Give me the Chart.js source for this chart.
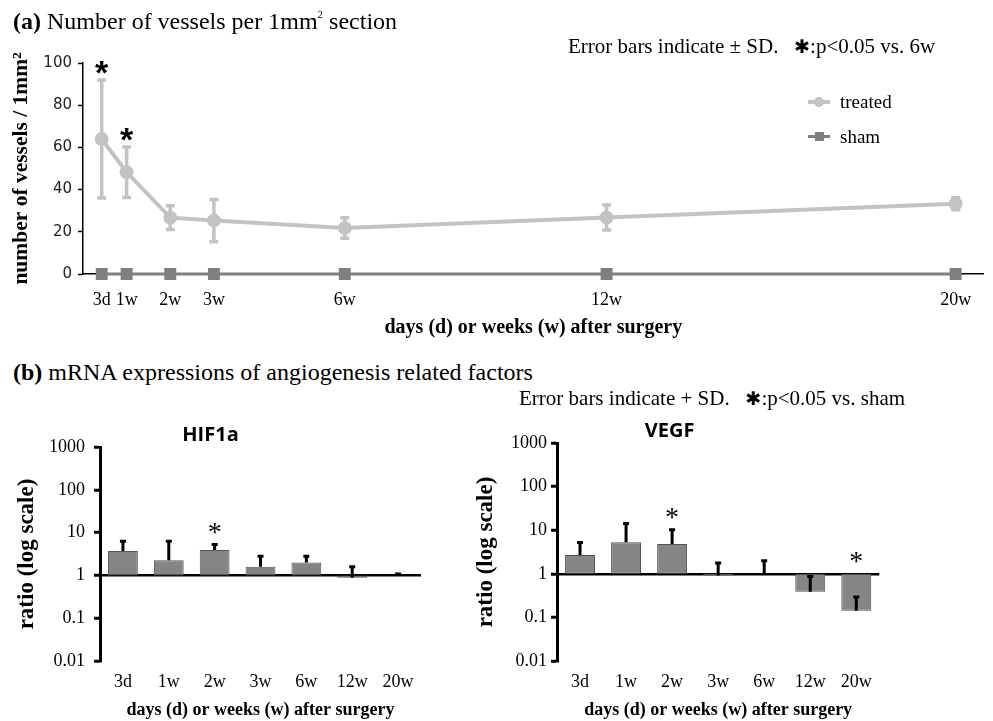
<!DOCTYPE html>
<html>
<head>
<meta charset="utf-8">
<script src="https://cdn.jsdelivr.net/npm/chart.js@4.4.1/dist/chart.umd.min.js"></script>
<style>
body { margin: 0; background: #fff; }
#wrap { position: relative; width: 993px; height: 721px; overflow: hidden; font-family: "Liberation Serif", serif; color: #000; }
canvas { position: absolute; }
.t { position: absolute; white-space: pre; line-height: 1; z-index: 2; }
.mk { position: absolute; z-index: 2; }
</style>
</head>
<body>
<div id="wrap">
  <canvas id="vesselChart" width="993" height="340" style="left:0;top:0"></canvas>
  <canvas id="hifChart" width="480" height="321" style="left:0;top:400px"></canvas>
  <canvas id="vegfChart" width="533" height="321" style="left:460px;top:400px"></canvas>

  <div class="t" style="left:13px;top:9px;font-size:24px"><b>(a)</b> Number of vessels per 1mm<span style="font-size:11px;vertical-align:11px">2</span> section</div>
  <div class="t" style="left:568px;top:36px;font-size:21px">Error bars indicate ± SD.   <span style="font-family:'DejaVu Sans';font-size:19px">✱</span>:p&lt;0.05 vs. 6w</div>

  <div class="mk" style="left:808px;top:100px;width:22px;height:4px;background:#c3c3c3"></div>
  <div class="mk" style="left:814px;top:97px;width:10px;height:10px;border-radius:50%;background:#c3c3c3"></div>
  <div class="t" style="left:840px;top:92px;font-size:19px">treated</div>
  <div class="mk" style="left:808px;top:135px;width:22px;height:3px;background:#7f7f7f"></div>
  <div class="mk" style="left:815px;top:132px;width:9px;height:9px;background:#7f7f7f"></div>
  <div class="t" style="left:840px;top:127px;font-size:19px">sham</div>

  <div class="t" style="left:13px;top:360px;font-size:24px"><b>(b)</b> mRNA expressions of angiogenesis related factors</div>
  <div class="t" style="left:519px;top:388px;font-size:21px">Error bars indicate + SD.   <span style="font-family:'DejaVu Sans';font-size:19px">✱</span>:p&lt;0.05 vs. sham</div>
</div>

<script>
// (a) vessels per 1mm2
var days = [3, 7, 14, 21, 42, 84, 140];
var dayLabels = ['3d', '1w', '2w', '3w', '6w', '12w', '20w'];
var treatedMean = [64, 48.2, 26.7, 25.3, 21.8, 26.8, 33.3];
var treatedSD = [28, 12, 5.6, 10, 4.8, 5.9, 2.8];
var shamMean = [0, 0, 0, 0, 0, 0, 0];
var treatedStars = [true, true, false, false, false, false, false];

// (b) mRNA ratio vs sham
var hifRatio = [3.7, 2.25, 3.9, 1.6, 2.0, 0.88, 1.0];
var hifSD = [2.6, 4.05, 1.4, 1.2, 0.8, 0.72, 0.08];
var hifStars = [false, false, true, false, false, false, false];

var vegfRatio = [2.7, 5.3, 4.8, 0.92, 1.0, 0.39, 0.142];
var vegfSD = [2.5, 8.9, 5.4, 0.84, 1.0, 0.48, 0.15];
var vegfStars = [false, false, true, false, false, false, true];

var ratioTicks = [0.01, 0.1, 1, 10, 100, 1000];

Chart.defaults.font.family = '"Liberation Serif", serif';
Chart.defaults.color = '#000';
Chart.defaults.animation = false;

function errorBars(values, sd, stars, st) {
  return {
    id: 'errorBars',
    afterDatasetsDraw: function (chart) {
      var meta = chart.getDatasetMeta(0);
      var y = chart.scales.y;
      var c = chart.ctx;
      c.save();
      c.strokeStyle = st.color;
      c.lineWidth = st.width;
      meta.data.forEach(function (el, i) {
        var v = values[i];
        var top = y.getPixelForValue(v + sd[i]);
        var bot = st.both ? y.getPixelForValue(v - sd[i]) : y.getPixelForValue(v);
        c.beginPath();
        c.moveTo(el.x, bot);
        c.lineTo(el.x, top);
        c.moveTo(el.x - st.cap, top);
        c.lineTo(el.x + st.cap, top);
        if (st.both) {
          c.moveTo(el.x - st.cap, bot);
          c.lineTo(el.x + st.cap, bot);
        }
        c.stroke();
      });
      // asterisks
      c.fillStyle = '#000';
      c.font = st.starFont;
      c.textAlign = 'center';
      c.textBaseline = 'alphabetic';
      var m = c.measureText('*');
      var shift = (m.actualBoundingBoxAscent - m.actualBoundingBoxDescent) / 2;
      meta.data.forEach(function (el, i) {
        if (!stars[i]) return;
        var ref = st.both ? values[i] + sd[i] : Math.max(1, values[i] + sd[i]);
        var cy = y.getPixelForValue(ref) - st.starGap;
        c.fillText('*', el.x, cy + shift);
      });
      c.restore();
    }
  };
}

var ctx = document.getElementById('vesselChart').getContext('2d');
var vesselChart = new Chart(ctx, {
  type: 'line',
  data: {
    datasets: [{
      label: 'treated',
      data: days.map(function (d, i) { return { x: d, y: treatedMean[i] }; }),
      borderColor: '#c3c3c3',
      backgroundColor: '#c3c3c3',
      borderWidth: 4,
      pointRadius: 5,
      pointStyle: 'circle',
      clip: false
    }, {
      label: 'sham',
      data: days.map(function (d, i) { return { x: d, y: shamMean[i] }; }),
      borderColor: '#7f7f7f',
      backgroundColor: '#7f7f7f',
      borderWidth: 3,
      pointRadius: 6.3,
      pointStyle: 'rect',
      clip: false
    }]
  },
  options: {
    responsive: false,
    events: [],
    layout: { padding: { top: 63, right: 3, left: 0, bottom: 0 } },
    plugins: { legend: { display: false }, tooltip: { enabled: false } },
    scales: {
      x: {
        type: 'linear',
        min: 0,
        max: 144.5,
        afterBuildTicks: function (s) { s.ticks = days.map(function (d) { return { value: d }; }); },
        afterFit: function (s) { s.height = 66; },
        grid: { display: false },
        border: { color: '#000', width: 1.5 },
        ticks: {
          autoSkip: false, maxRotation: 0, padding: 7,
          font: { size: 18 },
          callback: function (v, i) { return dayLabels[i]; }
        },
        title: {
          display: true,
          text: 'days (d) or weeks (w) after surgery',
          font: { size: 20, weight: 'bold' },
          padding: { top: 8, bottom: 0 }
        }
      },
      y: {
        min: 0,
        max: 100,
        afterFit: function (s) { s.width = 83; },
        grid: { drawOnChartArea: false, tickLength: 5, tickColor: '#000', tickWidth: 1.5 },
        border: { color: '#000', width: 1.5 },
        ticks: {
          stepSize: 20, padding: 6, color: '#222',
          font: { family: '"DejaVu Sans", sans-serif', size: 15 }
        },
        title: {
          display: true,
          text: 'number of vessels / 1mm²',
          font: { size: 21.5, weight: 'bold' },
          padding: { top: 9, bottom: 0 }
        }
      }
    }
  },
  plugins: [errorBars(treatedMean, treatedSD, treatedStars, {
    color: '#c3c3c3', width: 3.5, cap: 4.5, both: true,
    starFont: 'bold 34px "Liberation Sans"', starGap: 12
  })]
});

function ratioChart(id, title, ratio, sd, stars, axisWidth, padRight, titlePad, yTitlePad, tickPad) {
  var c = document.getElementById(id).getContext('2d');
  return new Chart(c, {
    type: 'bar',
    data: {
      labels: dayLabels,
      datasets: [{
        label: title,
        data: ratio.map(function (v) { return [1, v]; }),
        backgroundColor: '#858585',
        borderColor: '#555',
        borderWidth: 1,
        borderSkipped: false,
        categoryPercentage: 1,
        barPercentage: 0.65
      }]
    },
    options: {
      responsive: false,
      events: [],
      layout: { padding: { top: 0, right: padRight, left: 0, bottom: 0 } },
      plugins: {
        legend: { display: false },
        tooltip: { enabled: false },
        title: {
          display: true,
          text: title,
          font: { family: '"Open Sans", sans-serif', size: 20, weight: 'bold' },
          padding: titlePad
        }
      },
      scales: {
        x: {
          afterFit: function (s) { s.height = 60; },
          grid: { display: false },
          border: { display: false },
          ticks: { padding: 2, font: { size: 18 }, maxRotation: 0 },
          title: {
            display: true,
            text: 'days (d) or weeks (w) after surgery',
            font: { size: 18, weight: 'bold' },
            padding: { top: 0, bottom: 0 }
          }
        },
        y: {
          type: 'logarithmic',
          min: 0.01,
          max: 1000,
          afterBuildTicks: function (s) { s.ticks = ratioTicks.map(function (v) { return { value: v }; }); },
          afterFit: function (s) { s.width = axisWidth; },
          grid: {
            color: function (g) { return g.tick && g.tick.value === 1 ? '#000' : 'rgba(0,0,0,0)'; },
            lineWidth: 2.5,
            tickLength: 6,
            tickColor: '#000',
            tickWidth: 3
          },
          border: { color: '#000', width: 3 },
          ticks: {
            padding: tickPad,
            font: { size: 18 },
            callback: function (v) { return String(v); }
          },
          title: {
            display: true,
            text: 'ratio (log scale)',
            font: { size: 23, weight: 'bold' },
            padding: { top: yTitlePad, bottom: 0 }
          }
        }
      }
    },
    plugins: [errorBars(ratio, sd, stars, {
      color: '#000', width: 3, cap: 3, both: false,
      starFont: '28px "Liberation Serif"', starGap: 16
    })]
  });
}

var hifChart = ratioChart('hifChart', 'HIF1a', hifRatio, hifSD, hifStars, 100, 59, { top: 23, bottom: 0 }, 13, 9);
var vegfChart = ratioChart('vegfChart', 'VEGF', vegfRatio, vegfSD, vegfStars, 97, 113.7, { top: 19, bottom: 0 }, 12, 4);
</script>
</body>
</html>
